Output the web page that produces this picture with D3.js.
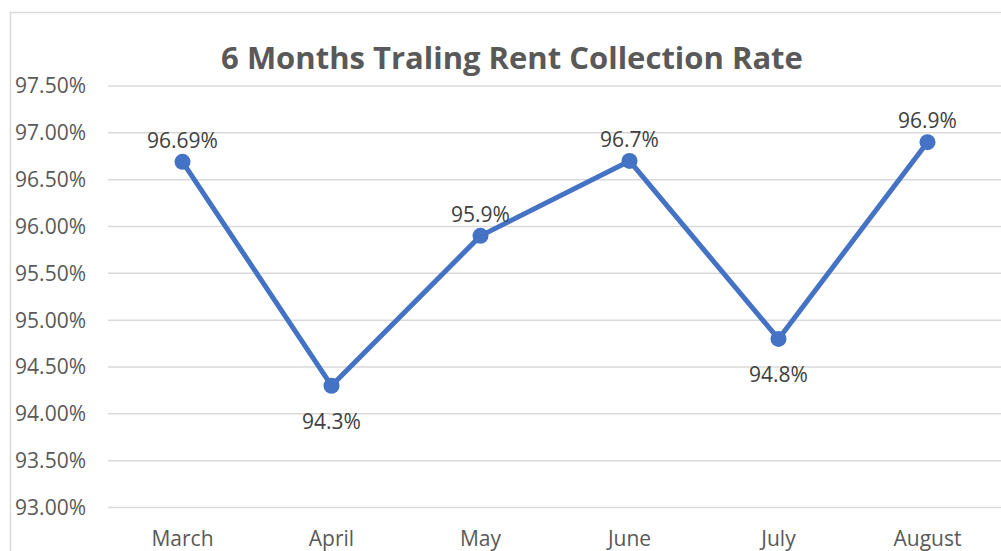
<!DOCTYPE html>
<html>
<head>
<meta charset="utf-8">
<script src="https://cdn.jsdelivr.net/npm/d3@7"></script>
<style>
  body { margin: 0; background: #fff; }
  svg { display: block; font-family: "Open Sans", sans-serif; }
</style>
</head>
<body>
<div id="chart"></div>
<script>
const months = ['March', 'April', 'May', 'June', 'July', 'August'];
const rates = [96.69, 94.3, 95.9, 96.7, 94.8, 96.9];
const rateLabels = ['96.69%', '94.3%', '95.9%', '96.7%', '94.8%', '96.9%'];
const labelBelow = [false, true, false, false, true, false];
const yTicks = [93, 93.5, 94, 94.5, 95, 95.5, 96, 96.5, 97, 97.5];

const W = 1001, H = 551;
const svg = d3.select('#chart').append('svg')
    .attr('width', W)
    .attr('height', H);

// chart area border (right/bottom are outside the picture)
svg.append('rect')
    .attr('x', 10.5).attr('y', 12.5)
    .attr('width', 1100).attr('height', 600)
    .attr('fill', 'none')
    .attr('stroke', '#d9d9d9')
    .attr('stroke-width', 1.5);

const x = d3.scaleBand()
    .domain(months)
    .range([108, 1002]);

const y = d3.scaleLinear()
    .domain([93, 97.5])
    .range([507.5, 86]);

// gridlines
svg.append('g')
    .selectAll('line')
    .data(yTicks)
    .join('line')
    .attr('x1', 108).attr('x2', 1002)
    .attr('y1', d => y(d)).attr('y2', d => y(d))
    .attr('stroke', '#d9d9d9')
    .attr('stroke-width', 1.5);

// y axis labels
svg.append('g')
    .selectAll('text')
    .data(yTicks)
    .join('text')
    .attr('x', 86)
    .attr('y', d => y(d))
    .attr('dy', '0.35em')
    .attr('text-anchor', 'end')
    .attr('fill', '#595959')
    .style('font-size', '21px')
    .text(d => d.toFixed(2) + '%');

// x axis labels
svg.append('g')
    .selectAll('text')
    .data(months)
    .join('text')
    .attr('x', d => x(d) + x.bandwidth() / 2)
    .attr('y', 546)
    .attr('text-anchor', 'middle')
    .attr('fill', '#595959')
    .style('font-size', '21px')
    .text(d => d);

const cx = i => x(months[i]) + x.bandwidth() / 2;

// line
svg.append('path')
    .datum(rates)
    .attr('d', d3.line().x((d, i) => cx(i)).y(d => y(d)))
    .attr('fill', 'none')
    .attr('stroke', '#4472c4')
    .attr('stroke-width', 5)
    .attr('stroke-linejoin', 'round');

// markers
svg.append('g')
    .selectAll('circle')
    .data(rates)
    .join('circle')
    .attr('cx', (d, i) => cx(i))
    .attr('cy', d => y(d))
    .attr('r', 8)
    .attr('fill', '#4472c4');

// data labels
svg.append('g')
    .selectAll('text')
    .data(rates)
    .join('text')
    .attr('x', (d, i) => cx(i))
    .attr('y', (d, i) => y(d) + (labelBelow[i] ? 43 : -14))
    .attr('text-anchor', 'middle')
    .attr('fill', '#404040')
    .style('font-size', '21px')
    .text((d, i) => rateLabels[i]);

// title
svg.append('text')
    .attr('x', 512)
    .attr('y', 69)
    .attr('text-anchor', 'middle')
    .attr('fill', '#595959')
    .style('font-size', '31px')
    .style('font-weight', 'bold')
    .text('6 Months Traling Rent Collection Rate');
</script>
</body>
</html>
